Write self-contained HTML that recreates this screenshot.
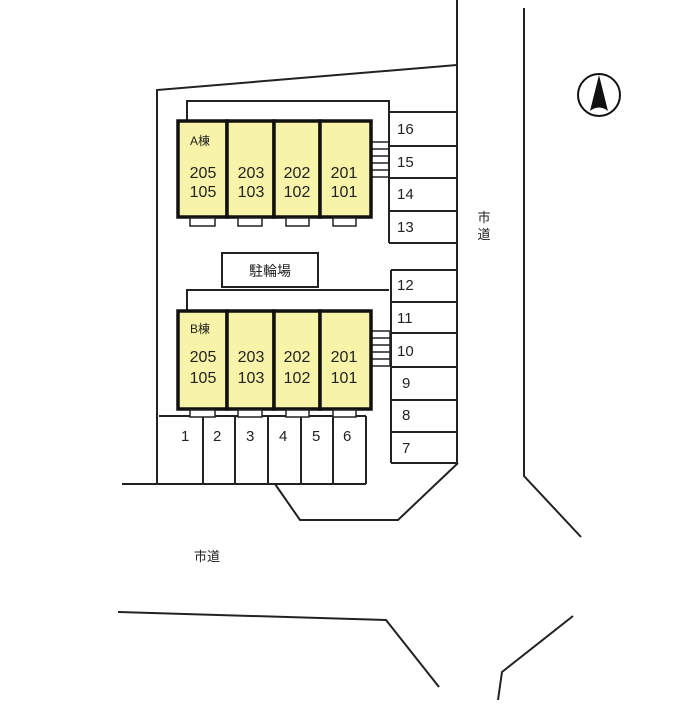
<!DOCTYPE html>
<html><head><meta charset="utf-8"><style>
body{margin:0;background:#fff}
text{font-family:"Liberation Sans","Noto Sans CJK JP",sans-serif;fill:#222}
</style></head><body>
<svg width="700" height="700" viewBox="0 0 700 700" xmlns="http://www.w3.org/2000/svg">
<g fill="none" stroke="#222" stroke-width="2">
<!-- site -->
<polyline points="457,0 457,463"/>
<polyline points="157,483 157,90 457,65"/>
<polyline points="122,484 366,484"/>
<polyline points="275,484 300,520 398,520 458,463"/>
<line x1="391" y1="463" x2="458" y2="463"/>
<!-- roads -->
<polyline points="524,8 524,476 581,537"/>
<polyline points="118,612 386,620 439,687"/>
<polyline points="573,616 502,672 498,700"/>
<!-- A fence -->
<polyline points="187,120 187,101 389,101 389,142"/>
<!-- A parking -->
<polyline points="389,112 457,112"/><line x1="389" y1="146" x2="457" y2="146"/><line x1="389" y1="178" x2="457" y2="178"/><line x1="389" y1="211" x2="457" y2="211"/><line x1="389" y1="243" x2="457" y2="243"/>
<line x1="389" y1="112" x2="389" y2="243"/>
<!-- bike -->
<rect x="222" y="253" width="96" height="34"/>
<!-- B fence -->
<polyline points="187,310 187,290 389,290"/>
<!-- B parking -->
<line x1="391" y1="270" x2="457" y2="270"/><line x1="391" y1="302" x2="457" y2="302"/><line x1="391" y1="333" x2="457" y2="333"/><line x1="391" y1="367" x2="457" y2="367"/><line x1="391" y1="400" x2="457" y2="400"/><line x1="391" y1="432" x2="457" y2="432"/>
<line x1="391" y1="270" x2="391" y2="463"/>
<!-- bottom parking -->
<line x1="159" y1="416" x2="366" y2="416"/>
<line x1="203" y1="416" x2="203" y2="484"/><line x1="235" y1="416" x2="235" y2="484"/><line x1="268" y1="416" x2="268" y2="484"/><line x1="301" y1="416" x2="301" y2="484"/><line x1="333" y1="416" x2="333" y2="484"/><line x1="366" y1="416" x2="366" y2="484"/>
</g>
<!-- stairs -->
<g stroke="#222" stroke-width="1.5">
<line x1="371" y1="142" x2="389" y2="142"/><line x1="371" y1="149" x2="389" y2="149"/><line x1="371" y1="156" x2="389" y2="156"/><line x1="371" y1="163" x2="389" y2="163"/><line x1="371" y1="170" x2="389" y2="170"/><line x1="371" y1="177" x2="389" y2="177"/><line x1="389" y1="142" x2="389" y2="177"/>
<line x1="372" y1="331" x2="390" y2="331"/><line x1="372" y1="338" x2="390" y2="338"/><line x1="372" y1="345" x2="390" y2="345"/><line x1="372" y1="352" x2="390" y2="352"/><line x1="372" y1="359" x2="390" y2="359"/><line x1="372" y1="366" x2="390" y2="366"/><line x1="390" y1="331" x2="390" y2="366"/>
</g>
<!-- buildings -->
<g fill="#f7f3a8" stroke="#111" stroke-width="3.5">
<rect x="178" y="121" width="49" height="96"/><rect x="227" y="121" width="47" height="96"/><rect x="274" y="121" width="46" height="96"/><rect x="320" y="121" width="51" height="96"/>
<rect x="178" y="311" width="49" height="98"/><rect x="227" y="311" width="47" height="98"/><rect x="274" y="311" width="46" height="98"/><rect x="320" y="311" width="51" height="98"/>
</g>
<g fill="#fff" stroke="#222" stroke-width="1.5">
<rect x="190" y="218" width="25" height="8"/><rect x="238" y="218" width="24" height="8"/><rect x="286" y="218" width="23" height="8"/><rect x="333" y="218" width="23" height="8"/>
<rect x="190" y="410" width="25" height="7"/><rect x="238" y="410" width="24" height="7"/><rect x="286" y="410" width="23" height="7"/><rect x="333" y="410" width="23" height="7"/>
</g>
<g font-size="16" text-anchor="middle">
<text x="203" y="178">205</text><text x="203" y="197">105</text>
<text x="251" y="178">203</text><text x="251" y="197">103</text>
<text x="297" y="178">202</text><text x="297" y="197">102</text>
<text x="344" y="178">201</text><text x="344" y="197">101</text>
<text x="203" y="362">205</text><text x="203" y="383">105</text>
<text x="251" y="362">203</text><text x="251" y="383">103</text>
<text x="297" y="362">202</text><text x="297" y="383">102</text>
<text x="344" y="362">201</text><text x="344" y="383">101</text>
</g>
<text x="190" y="145" font-size="12">A棟</text>
<text x="190" y="333" font-size="12">B棟</text>
<g font-size="15" font-family="Liberation Sans">
<text x="397" y="134">16</text><text x="397" y="167">15</text><text x="397" y="199">14</text><text x="397" y="232">13</text>
<text x="397" y="290">12</text><text x="397" y="323">11</text><text x="397" y="356">10</text><text x="402" y="388">9</text><text x="402" y="420">8</text><text x="402" y="453">7</text>
<text x="181" y="441">1</text><text x="213" y="441">2</text><text x="246" y="441">3</text><text x="279" y="441">4</text><text x="312" y="441">5</text><text x="343" y="441">6</text>
</g>
<text x="270" y="276" font-size="14" text-anchor="middle">駐輪場</text>
<text x="484" y="222" font-size="13" text-anchor="middle">市</text>
<text x="484" y="239" font-size="13" text-anchor="middle">道</text>
<text x="207" y="561" font-size="13" text-anchor="middle">市道</text>
<!-- north -->
<circle cx="599" cy="95" r="21" fill="none" stroke="#111" stroke-width="2"/>
<path d="M599,75 L590,111 Q599,104 608,111 Z" fill="#111"/>
</svg>
</body></html>
